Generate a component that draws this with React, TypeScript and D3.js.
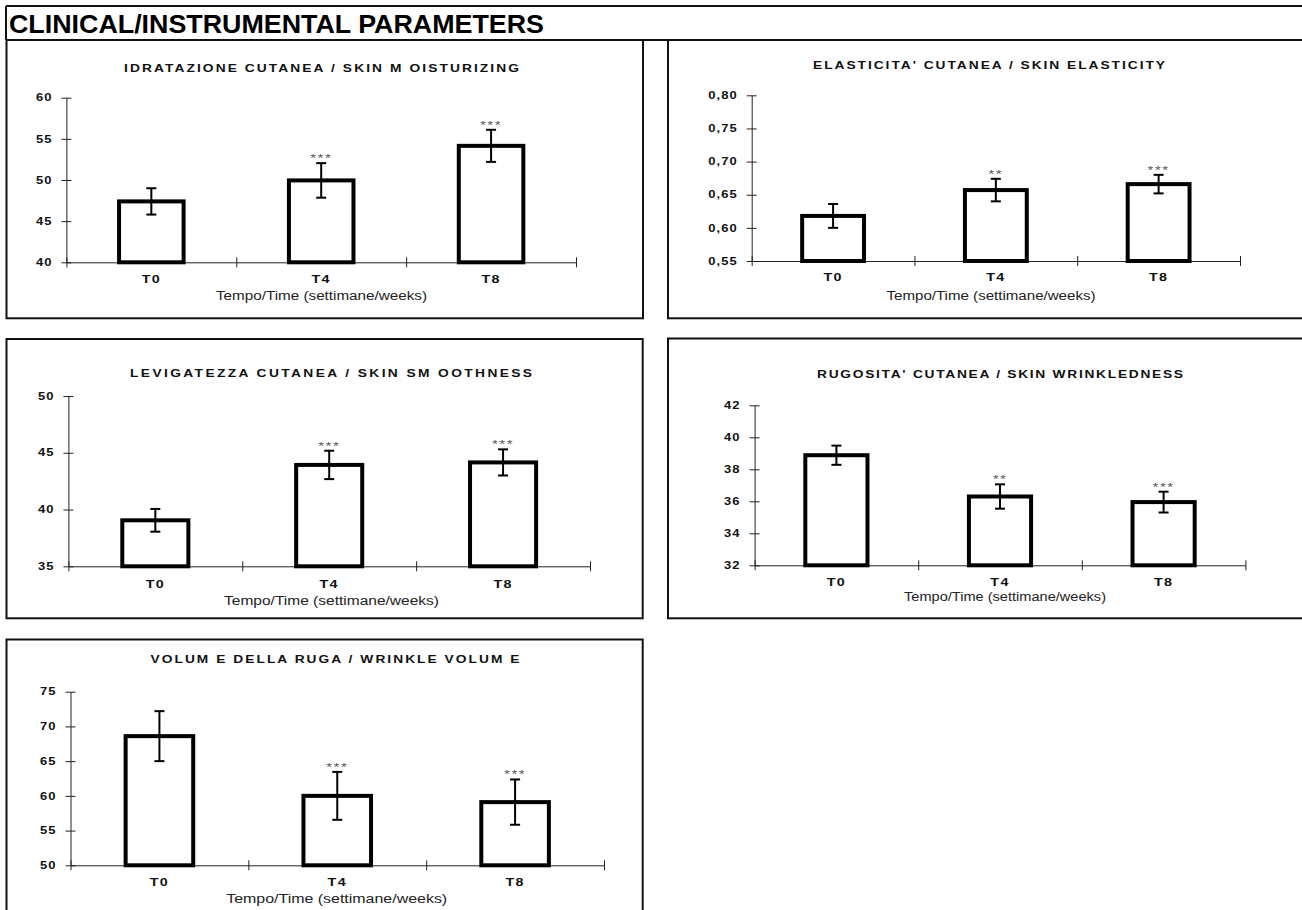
import React, { useEffect, useRef } from 'react';
import * as d3 from 'd3';

// shared
const categories = ['T0', 'T4', 'T8'];
const pageTitle = 'CLINICAL/INSTRUMENTAL PARAMETERS';
const xAxisTitle = 'Tempo/Time (settimane/weeks)';

// skin moisturizing
const moistureMeans = [47.4, 49.95, 54.15];
const moistureErrors = [1.6, 2.1, 1.95];
const moistureStars = ['', '***', '***'];
const moistureTicks = [40, 45, 50, 55, 60];

// skin elasticity
const elasticityMeans = [0.618, 0.657, 0.666];
const elasticityErrors = [0.018, 0.017, 0.014];
const elasticityStars = ['', '**', '***'];
const elasticityTicks = [0.55, 0.6, 0.65, 0.7, 0.75, 0.8];

// skin smoothness
const smoothnessMeans = [39.05, 43.93, 44.15];
const smoothnessErrors = [1.0, 1.25, 1.15];
const smoothnessStars = ['', '***', '***'];
const smoothnessTicks = [35, 40, 45, 50];

// skin wrinkledness
const wrinklednessMeans = [38.88, 36.3, 35.95];
const wrinklednessErrors = [0.6, 0.76, 0.65];
const wrinklednessStars = ['', '**', '***'];
const wrinklednessTicks = [32, 34, 36, 38, 40, 42];

// wrinkle volume
const volumeMeans = [68.6, 60.0, 59.1];
const volumeErrors = [3.6, 3.45, 3.26];
const volumeStars = ['', '***', '***'];
const volumeTicks = [50, 55, 60, 65, 70, 75];

interface Panel {
  title: string;
  means: number[];
  errors: number[];
  stars: string[];
  ticks: number[];
  decimals: number;
  box: [number, number, number, number];
  axisX: [number, number];
  axisY: [number, number];
  titleX: number;
  titleY: number;
  titleW: number;
  catY: number;
  xtX: number;
  xtY: number;
  xtW: number;
}

const panels: Panel[] = [
  {
    title: 'IDRATAZIONE CUTANEA / SKIN M OISTURIZING',
    means: moistureMeans, errors: moistureErrors, stars: moistureStars, ticks: moistureTicks, decimals: 0,
    box: [6.5, 40, 636.5, 278.3], axisX: [66.4, 576], axisY: [262.3, 97.7],
    titleX: 321.5, titleY: 67.7, titleW: 395, catY: 279.3, xtX: 321.5, xtY: 295, xtW: 211,
  },
  {
    title: "ELASTICITA' CUTANEA / SKIN ELASTICITY",
    means: elasticityMeans, errors: elasticityErrors, stars: elasticityStars, ticks: elasticityTicks, decimals: 2,
    box: [668, 40, 700, 278.3], axisX: [751.7, 1240], axisY: [261, 95.3],
    titleX: 989, titleY: 65, titleW: 352, catY: 277, xtX: 991, xtY: 295, xtW: 209,
  },
  {
    title: 'LEVIGATEZZA CUTANEA / SKIN SM OOTHNESS',
    means: smoothnessMeans, errors: smoothnessErrors, stars: smoothnessStars, ticks: smoothnessTicks, decimals: 0,
    box: [6.5, 339, 636.2, 279.3], axisX: [68.4, 590], axisY: [566.3, 396],
    titleX: 331, titleY: 372.7, titleW: 402, catY: 584, xtX: 331.5, xtY: 600, xtW: 215,
  },
  {
    title: "RUGOSITA' CUTANEA / SKIN WRINKLEDNESS",
    means: wrinklednessMeans, errors: wrinklednessErrors, stars: wrinklednessStars, ticks: wrinklednessTicks, decimals: 0,
    box: [668, 338.5, 700, 279.8], axisX: [754.6, 1245.4], axisY: [565.3, 405.3],
    titleX: 1000, titleY: 374.3, titleW: 366, catY: 582.3, xtX: 1005, xtY: 596, xtW: 202,
  },
  {
    title: 'VOLUM E DELLA RUGA / WRINKLE VOLUM E',
    means: volumeMeans, errors: volumeErrors, stars: volumeStars, ticks: volumeTicks, decimals: 0,
    box: [6.5, 639.5, 636.2, 300], axisX: [70.5, 604], axisY: [865.3, 691.7],
    titleX: 335, titleY: 659.3, titleW: 369, catY: 882.3, xtX: 336.7, xtY: 898.3, xtW: 221,
  },
];

const FONT = "'Liberation Sans', Arial, Helvetica, sans-serif";
const STRETCH = 1.3;
const TITLE_STRETCH = 1.25;

const commaLocale = d3.formatLocale({ decimal: ',', thousands: '.', grouping: [3], currency: ['', ''] });

const App: React.FC = () => {
  const svgRef = useRef<SVGSVGElement>(null);

  useEffect(() => {
    if (!svgRef.current) return;
    const svg = d3.select(svgRef.current);
    svg.selectAll('*').remove();

    svg.append('rect').attr('width', 1302).attr('height', 910).attr('fill', '#fff');

    // page header
    svg.append('path')
      .attr('d', 'M6,6 H1302 M6,40 H1302 M6,6 V40')
      .attr('fill', 'none')
      .attr('stroke', '#111')
      .attr('stroke-width', 2);
    svg.append('text')
      .attr('x', 9)
      .attr('y', 33)
      .attr('font-family', FONT)
      .attr('font-weight', 'bold')
      .attr('font-size', 25)
      .attr('textLength', 535)
      .attr('lengthAdjust', 'spacingAndGlyphs')
      .attr('fill', '#000')
      .text(pageTitle);

    panels.forEach(p => {
      const g = svg.append('g');
      const [bx, by, bw, bh] = p.box;

      g.append('rect')
        .attr('x', bx).attr('y', by).attr('width', bw).attr('height', bh)
        .attr('fill', 'none').attr('stroke', '#111').attr('stroke-width', 2);

      const y = d3.scaleLinear()
        .domain([p.ticks[0], p.ticks[p.ticks.length - 1]])
        .range(p.axisY);
      const x = d3.scaleBand<string>()
        .domain(categories)
        .range(p.axisX)
        .paddingInner(0.62)
        .paddingOuter(0.31);
      const edges = d3.scaleLinear().domain([0, categories.length]).range(p.axisX);
      const fmt = p.decimals > 0 ? commaLocale.format(`.${p.decimals}f`) : d3.format('d');

      // title: wide glyphs plus letter spacing
      g.append('text')
        .attr('transform', `translate(${p.titleX},${p.titleY}) scale(${TITLE_STRETCH},1)`)
        .attr('dy', '0.36em')
        .attr('text-anchor', 'middle')
        .attr('font-family', FONT)
        .attr('font-weight', 'bold')
        .attr('font-size', 11)
        .attr('textLength', p.titleW / TITLE_STRETCH)
        .attr('lengthAdjust', 'spacing')
        .attr('fill', '#111')
        .text(p.title);

      // y axis with cross ticks
      const yAxis = d3.axisLeft(y)
        .tickValues(p.ticks)
        .tickSizeInner(5)
        .tickSizeOuter(0)
        .tickFormat(d => fmt(d as number));
      const gy = g.append('g')
        .attr('transform', `translate(${p.axisX[0]},0)`)
        .attr('font-family', FONT)
        .attr('font-size', 11)
        .attr('font-weight', 'bold')
        .call(yAxis);
      gy.select('.domain').attr('stroke', '#222');
      gy.selectAll('.tick line').attr('x1', 5).attr('stroke', '#222');
      gy.selectAll('.tick text')
        .attr('x', null)
        .attr('fill', '#111')
        .attr('letter-spacing', 0.8)
        .attr('transform', `translate(-14,0) scale(${STRETCH},1)`);

      // x axis, ticks at band boundaries
      const xAxis = d3.axisBottom(edges)
        .tickValues(d3.range(categories.length + 1))
        .tickSizeInner(5)
        .tickSizeOuter(0)
        .tickFormat(() => '');
      const gx = g.append('g')
        .attr('transform', `translate(0,${p.axisY[0]})`)
        .call(xAxis);
      gx.select('.domain').attr('stroke', '#222');
      gx.selectAll('.tick line').attr('y1', -5).attr('stroke', '#222');

      // category labels
      g.selectAll('text.cat')
        .data(categories)
        .enter()
        .append('text')
        .attr('class', 'cat')
        .attr('transform', d => `translate(${(x(d) ?? 0) + x.bandwidth() / 2},${p.catY}) scale(${STRETCH},1)`)
        .attr('dy', '0.36em')
        .attr('text-anchor', 'middle')
        .attr('font-family', FONT)
        .attr('font-weight', 'bold')
        .attr('font-size', 11)
        .attr('letter-spacing', 1)
        .attr('fill', '#111')
        .text(d => d);

      // x axis title
      g.append('text')
        .attr('x', p.xtX)
        .attr('y', p.xtY)
        .attr('dy', '0.36em')
        .attr('text-anchor', 'middle')
        .attr('font-family', FONT)
        .attr('font-size', 12.5)
        .attr('textLength', p.xtW)
        .attr('lengthAdjust', 'spacingAndGlyphs')
        .attr('fill', '#222')
        .text(xAxisTitle);

      const rows = categories.map((c, i) => ({ c, mean: p.means[i], err: p.errors[i], star: p.stars[i] }));
      const base = y.domain()[0];

      // bars
      g.selectAll('rect.bar')
        .data(rows)
        .enter()
        .append('rect')
        .attr('class', 'bar')
        .attr('x', d => x(d.c) ?? 0)
        .attr('y', d => y(d.mean))
        .attr('width', x.bandwidth())
        .attr('height', d => y(base) - y(d.mean))
        .attr('fill', '#fff')
        .attr('stroke', '#000')
        .attr('stroke-width', 4);

      // error bars
      const cx = (d: { c: string }) => (x(d.c) ?? 0) + x.bandwidth() / 2;
      const eb = g.selectAll('g.err')
        .data(rows)
        .enter()
        .append('g')
        .attr('class', 'err')
        .attr('stroke', '#000')
        .attr('stroke-width', 2);
      eb.append('line')
        .attr('x1', cx).attr('x2', cx)
        .attr('y1', d => y(d.mean + d.err))
        .attr('y2', d => y(d.mean - d.err));
      eb.append('line')
        .attr('x1', d => cx(d) - 5).attr('x2', d => cx(d) + 5)
        .attr('y1', d => y(d.mean + d.err)).attr('y2', d => y(d.mean + d.err));
      eb.append('line')
        .attr('x1', d => cx(d) - 5).attr('x2', d => cx(d) + 5)
        .attr('y1', d => y(d.mean - d.err)).attr('y2', d => y(d.mean - d.err));

      // significance stars
      g.selectAll('text.star')
        .data(rows.filter(d => d.star))
        .enter()
        .append('text')
        .attr('class', 'star')
        .attr('transform', d => `translate(${cx(d)},${y(d.mean + d.err) - 1}) scale(${STRETCH},1)`)
        .attr('text-anchor', 'middle')
        .attr('font-family', FONT)
        .attr('font-size', 11.5)
        .attr('letter-spacing', 1.2)
        .attr('fill', '#555')
        .text(d => d.star);
    });
  }, []);

  return (
    <svg
      ref={svgRef}
      width={1302}
      height={910}
      style={{ position: 'absolute', left: 0, top: 0, display: 'block' }}
    />
  );
};

export default App;
